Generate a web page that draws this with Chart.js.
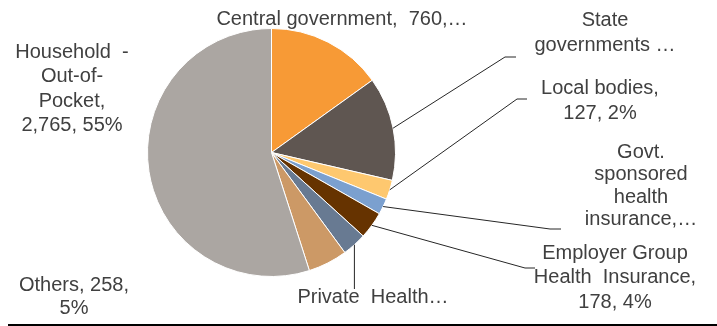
<!DOCTYPE html>
<html>
<head>
<meta charset="utf-8">
<script src="https://cdn.jsdelivr.net/npm/chart.js@4.4.0/dist/chart.umd.min.js"></script>
<style>
  html, body { margin: 0; padding: 0; background: #fff; }
  #wrap { width: 717px; height: 326px; }
</style>
</head>
<body>
<div id="wrap"><canvas id="myChart" width="717" height="326"></canvas></div>
<script>
// data (clockwise from 12 o'clock)
var categories = ['Central government', 'State governments', 'Local bodies',
    'Govt. sponsored health insurance', 'Employer Group Health Insurance',
    'Private Health', 'Others', 'Household - Out-of-Pocket'];
var values = [760, 680, 127, 105, 178, 160, 258, 2765];
var colors = ['#F79A36', '#5F5651', '#FEC86F', '#7BA0CF', '#663300', '#687A92', '#CC9966', '#ABA6A2'];

// label text as it shows in the picture (wrapped / truncated)
var labelLines = [
    ['Central government,  760,\u2026'],
    ['State', 'governments \u2026'],
    ['Local bodies,', '127, 2%'],
    ['Govt.', 'sponsored', 'health', 'insurance,\u2026'],
    ['Employer Group', 'Health  Insurance,', '178, 4%'],
    ['Private  Health\u2026'],
    ['Others, 258,', '5%'],
    ['Household  -', 'Out-of-', 'Pocket,', '2,765, 55%']
];

// where each label sits: centre x, first line y, line height, leader elbow + end (null = no leader)
var labelPos = [
    { x: 342, y: 19, lh: 25, leader: null },
    { x: 605, y: 20, lh: 25, leader: [[505, 57], [516, 57]] },
    { x: 600, y: 88, lh: 25, leader: [[517, 99], [527, 99]] },
    { x: 641, y: 152, lh: 22.5, leader: [[550, 229], [561, 229]] },
    { x: 615, y: 253, lh: 24.5, leader: [[525, 268], [535, 268]] },
    { x: 373, y: 297, lh: 25, leader: 'down' },
    { x: 74, y: 285, lh: 23, leader: null },
    { x: 72, y: 52, lh: 24.5, leader: null }
];

var pieLabels = {
    id: 'pieLabels',
    afterDraw: function (chart) {
        var ctx = chart.ctx;
        var arcs = chart.getDatasetMeta(0).data;
        ctx.save();
        // leader lines
        ctx.strokeStyle = '#262626';
        ctx.lineWidth = 1;
        arcs.forEach(function (arc, i) {
            var p = labelPos[i];
            if (!p.leader) return;
            var mid = (arc.startAngle + arc.endAngle) / 2;
            var sx = arc.x + Math.cos(mid) * arc.outerRadius;
            var sy = arc.y + Math.sin(mid) * arc.outerRadius;
            ctx.beginPath();
            ctx.moveTo(sx, sy);
            if (p.leader === 'down') {
                ctx.lineTo(sx, p.y - 8);
            } else {
                p.leader.forEach(function (pt) { ctx.lineTo(pt[0], pt[1]); });
            }
            ctx.stroke();
        });
        // label text
        ctx.fillStyle = '#404040';
        ctx.font = '20px "Liberation Sans", Arial, sans-serif';
        ctx.textAlign = 'center';
        ctx.textBaseline = 'middle';
        labelLines.forEach(function (lines, i) {
            var p = labelPos[i];
            lines.forEach(function (t, k) {
                ctx.fillText(t, p.x, p.y + k * p.lh);
            });
        });
        // rule under the chart
        ctx.strokeStyle = '#000';
        ctx.lineWidth = 2;
        ctx.beginPath();
        ctx.moveTo(8, 325);
        ctx.lineTo(717, 325);
        ctx.stroke();
        ctx.restore();
    }
};

var myChart = new Chart(document.getElementById('myChart'), {
    type: 'pie',
    data: {
        labels: categories,
        datasets: [{
            data: values,
            backgroundColor: colors,
            borderColor: '#ffffff',
            borderWidth: 1
        }]
    },
    options: {
        responsive: false,
        animation: false,
        layout: {
            padding: { left: 147, right: 321, top: 27, bottom: 48 }
        },
        plugins: {
            legend: { display: false },
            tooltip: { enabled: false }
        }
    },
    plugins: [pieLabels]
});
</script>
</body>
</html>
